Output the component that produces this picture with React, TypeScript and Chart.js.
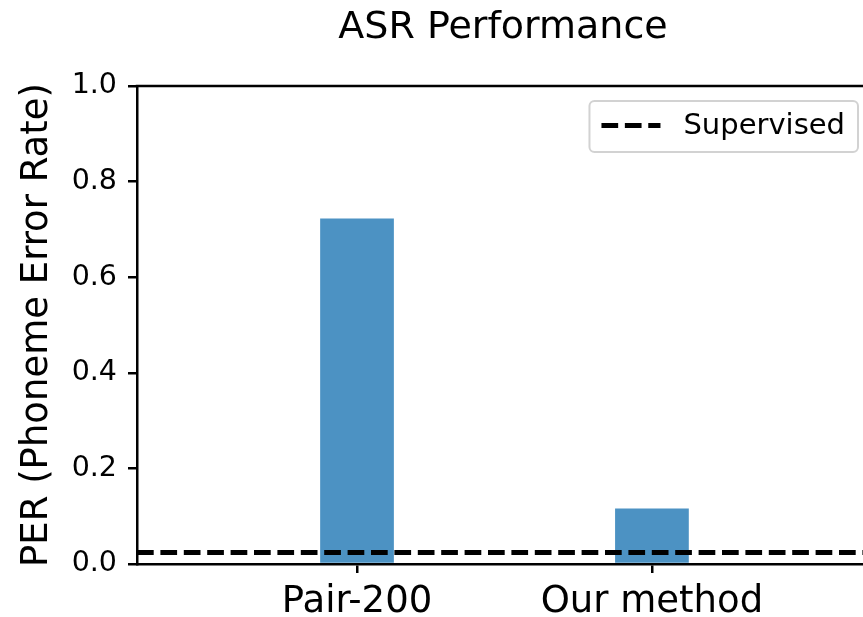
import React, { useEffect, useRef } from "react";
import { Chart, registerables } from "chart.js";

Chart.register(...registerables);

const categories = ["Pair-200", "Our method"];
const perValues = [0.723, 0.116];
const supervisedPER = 0.024;
const yTicks = [0, 0.2, 0.4, 0.6, 0.8, 1.0];
const chartTitle = "ASR Performance";
const yAxisTitle = "PER (Phoneme Error Rate)";
const legendLabel = "Supervised";
const xMin = -0.746;
const xMax = 1.736;

const FONT = "'DejaVu Sans', sans-serif";
const DASH = [16.7, 6.7];

const spinePlugin = {
  id: "topSpine",
  afterDatasetsDraw(chart: any) {
    const { ctx, chartArea } = chart;
    ctx.save();
    ctx.strokeStyle = "#000";
    ctx.lineWidth = 2.5;
    ctx.beginPath();
    ctx.moveTo(chartArea.left - 1.25, chartArea.top);
    ctx.lineTo(chartArea.right + 2, chartArea.top);
    ctx.stroke();
    ctx.restore();
  },
};

const boxLegendPlugin = {
  id: "boxLegend",
  afterDraw(chart: any) {
    const { ctx, chartArea } = chart;
    ctx.save();
    ctx.font = `29px ${FONT}`;
    const textW = ctx.measureText(legendLabel).width;
    const right = chartArea.right - 11;
    const top = chartArea.top + 15;
    const h = 51;
    const w = 12 + 59 + 23 + textW + 13;
    const left = right - w;
    const r = 5;
    ctx.beginPath();
    ctx.moveTo(left + r, top);
    ctx.lineTo(right - r, top);
    ctx.arcTo(right, top, right, top + r, r);
    ctx.lineTo(right, top + h - r);
    ctx.arcTo(right, top + h, right - r, top + h, r);
    ctx.lineTo(left + r, top + h);
    ctx.arcTo(left, top + h, left, top + h - r, r);
    ctx.lineTo(left, top + r);
    ctx.arcTo(left, top, left + r, top, r);
    ctx.closePath();
    ctx.fillStyle = "rgba(255,255,255,0.8)";
    ctx.fill();
    ctx.strokeStyle = "#d2d2d2";
    ctx.lineWidth = 2;
    ctx.stroke();
    const cy = top + h / 2;
    ctx.setLineDash(DASH);
    ctx.lineWidth = 5;
    ctx.strokeStyle = "#000";
    ctx.beginPath();
    ctx.moveTo(left + 12, cy - 1);
    ctx.lineTo(left + 71, cy - 1);
    ctx.stroke();
    ctx.setLineDash([]);
    ctx.fillStyle = "#000";
    ctx.textBaseline = "middle";
    ctx.textAlign = "left";
    ctx.fillText(legendLabel, left + 94, cy);
    ctx.restore();
  },
};

export default function App() {
  const canvasRef = useRef<HTMLCanvasElement | null>(null);

  useEffect(() => {
    if (!canvasRef.current) return;
    const chart = new Chart(canvasRef.current, {
      type: "bar",
      data: {
        datasets: [
          {
            type: "line",
            label: legendLabel,
            data: [
              { x: xMin, y: supervisedPER },
              { x: xMax, y: supervisedPER },
            ],
            borderColor: "#000",
            borderWidth: 5,
            borderDash: DASH,
            pointRadius: 0,
            fill: false,
            order: 0,
          } as any,
          {
            type: "bar",
            label: "PER",
            data: categories.map((_, i) => ({ x: i, y: perValues[i] })),
            backgroundColor: "rgba(31,119,180,0.8)",
            barPercentage: 0.25,
            categoryPercentage: 1,
            order: 1,
          } as any,
        ],
      },
      options: {
        animation: false,
        responsive: false,
        layout: { padding: { left: 0, right: 1, top: 0, bottom: 0 } },
        plugins: {
          legend: { display: false },
          tooltip: { enabled: false },
          title: {
            display: true,
            text: chartTitle,
            fullSize: false,
            color: "#000",
            font: { family: FONT, size: 38, weight: "normal", lineHeight: 1.2 },
            padding: { top: 5, bottom: 35.4 },
          },
        },
        scales: {
          x: {
            type: "linear",
            min: xMin,
            max: xMax,
            offset: false,
            afterBuildTicks: (s: any) => {
              s.ticks = categories.map((_, i) => ({ value: i }));
            },
            afterFit: (s: any) => {
              s.height = 53;
            },
            ticks: {
              callback: (v: any) => categories[Math.round(Number(v))] ?? "",
              color: "#000",
              font: { family: FONT, size: 37 },
              padding: 7,
              maxRotation: 0,
              autoSkip: false,
            },
            grid: {
              offset: false,
              drawOnChartArea: false,
              drawTicks: true,
              tickLength: 9,
              color: "#000",
              lineWidth: 2.5,
            },
            border: { display: true, color: "#000", width: 2.5 },
          },
          y: {
            type: "linear",
            min: 0,
            max: 1,
            afterBuildTicks: (s: any) => {
              s.ticks = yTicks.map((v) => ({ value: v }));
            },
            afterFit: (s: any) => {
              s.width = 137;
            },
            ticks: {
              callback: (v: any) => Number(v).toFixed(1),
              color: "#000",
              font: { family: FONT, size: 28.5 },
              padding: 11,
            },
            grid: {
              drawOnChartArea: false,
              drawTicks: true,
              tickLength: 9,
              color: "#000",
              lineWidth: 2.5,
            },
            border: { display: true, color: "#000", width: 2.5 },
            title: {
              display: true,
              text: yAxisTitle,
              color: "#000",
              font: { family: FONT, size: 37, lineHeight: 1.2 },
              padding: { top: 15, bottom: 0 },
            },
          },
        },
      },
      plugins: [spinePlugin, boxLegendPlugin],
    });
    return () => chart.destroy();
  }, []);

  return (
    <div
      style={{
        position: "fixed",
        left: 0,
        top: 0,
        width: 863,
        height: 617,
        overflow: "hidden",
        background: "#fff",
      }}
    >
      <canvas
        ref={canvasRef}
        width={870}
        height={617}
        style={{ display: "block", width: 870, height: 617 }}
      />
    </div>
  );
}
